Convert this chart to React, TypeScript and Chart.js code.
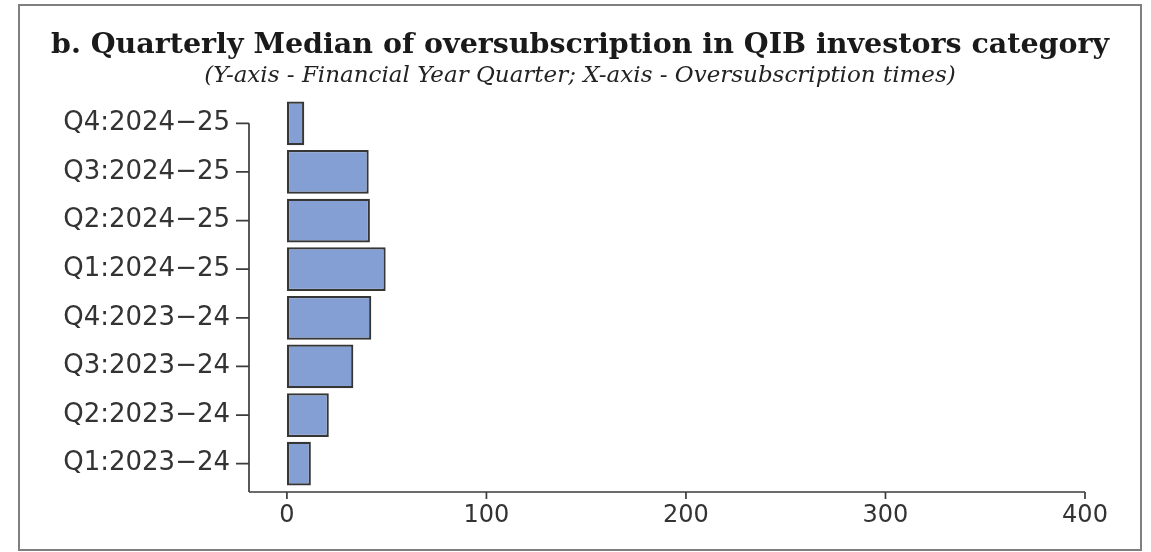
import React, { useEffect, useRef } from "react";
import { Chart, registerables } from "chart.js";

Chart.register(...registerables);

const quarters = [
  "Q1:2023\u221224",
  "Q2:2023\u221224",
  "Q3:2023\u221224",
  "Q4:2023\u221224",
  "Q1:2024\u221225",
  "Q2:2024\u221225",
  "Q3:2024\u221225",
  "Q4:2024\u221225",
];
const medianOversubscription = [12, 21, 33.3, 42.3, 49.5, 41.6, 41, 8.7];
const xTicks = [0, 100, 200, 300, 400];

const titleText = "b. Quarterly Median of oversubscription in QIB investors category";
const subtitleText = "(Y-axis - Financial Year Quarter; X-axis - Oversubscription times)";

const axisPlugin = {
  id: "rAxes",
  afterDraw(chart: any) {
    const { ctx, chartArea, scales } = chart;
    const xs = scales.x;
    const ys = scales.y;
    const axisY = chartArea.bottom + 4;
    const left = chartArea.left;
    ctx.save();
    ctx.strokeStyle = "#3c3c3c";
    ctx.lineWidth = 1.7;
    ctx.beginPath();
    ctx.moveTo(left, axisY);
    ctx.lineTo(xs.getPixelForValue(xTicks[xTicks.length - 1]), axisY);
    xTicks.forEach((v) => {
      const px = xs.getPixelForValue(v);
      ctx.moveTo(px, axisY);
      ctx.lineTo(px, axisY + 7);
    });
    const topY = ys.getPixelForValue(quarters.length - 1);
    ctx.moveTo(left, topY);
    ctx.lineTo(left, axisY);
    quarters.forEach((_, i) => {
      const py = ys.getPixelForValue(i);
      ctx.moveTo(left - 13, py);
      ctx.lineTo(left, py);
    });
    ctx.stroke();
    ctx.restore();
  },
};

export default function App() {
  const ref = useRef<HTMLCanvasElement | null>(null);
  useEffect(() => {
    if (!ref.current) return;
    const chart = new Chart(ref.current, {
      type: "bar",
      data: {
        labels: quarters,
        datasets: [
          {
            data: medianOversubscription,
            backgroundColor: "#849fd4",
            borderColor: "#363636",
            borderWidth: 2.2,
            borderSkipped: false,
            barPercentage: 0.9,
            categoryPercentage: 1,
          },
        ],
      },
      options: {
        indexAxis: "y",
        animation: false,
        responsive: false,
        maintainAspectRatio: false,
        layout: { padding: { left: 9, right: 0, top: 0, bottom: 0 } },
        plugins: {
          legend: { display: false },
          tooltip: { enabled: false },
          title: {
            display: true,
            text: titleText,
            color: "#1a1a1a",
            font: { family: "'DejaVu Serif', serif", size: 28.5, weight: "bold" },
            padding: { top: 28, bottom: 0 },
          },
          subtitle: {
            display: true,
            text: subtitleText,
            color: "#222",
            font: { family: "'DejaVu Serif', serif", size: 23, style: "italic" },
            padding: { top: 0, bottom: 9.2 },
          },
        },
        scales: {
          x: {
            type: "linear",
            min: -19,
            max: 400,
            grid: { display: false, drawTicks: false },
            border: { display: false },
            afterBuildTicks: (s: any) => {
              s.ticks = xTicks.map((v) => ({ value: v }));
            },
            afterFit: (s: any) => {
              s.height = 64;
            },
            ticks: {
              padding: 13.5,
              color: "#333",
              font: { family: "'DejaVu Sans', sans-serif", size: 24 },
              maxRotation: 0,
            },
          },
          y: {
            type: "category",
            reverse: true,
            offset: true,
            grid: { display: false, drawTicks: false },
            border: { display: false },
            afterFit: (s: any) => {
              s.width = 240;
            },
            ticks: {
              padding: 19,
              color: "#333",
              font: { family: "'DejaVu Sans', sans-serif", size: 26 },
            },
          },
          yRight: {
            type: "category",
            position: "right",
            labels: quarters,
            display: true,
            grid: { display: false, drawTicks: false },
            border: { display: false },
            ticks: { display: false },
            afterFit: (s: any) => {
              s.width = 66;
            },
          },
        },
      },
      plugins: [axisPlugin],
    });
    return () => chart.destroy();
  }, []);

  return (
    <div style={{ position: "fixed", left: 0, top: 0, width: 1151, height: 552, background: "#fff" }}>
      <canvas ref={ref} width={1151} height={552} style={{ position: "absolute", left: 0, top: 0 }} />
      <div
        style={{
          position: "absolute",
          left: 18,
          top: 4,
          width: 1124,
          height: 547,
          boxSizing: "border-box",
          border: "2px solid #7f7f7f",
          pointerEvents: "none",
        }}
      />
    </div>
  );
}
